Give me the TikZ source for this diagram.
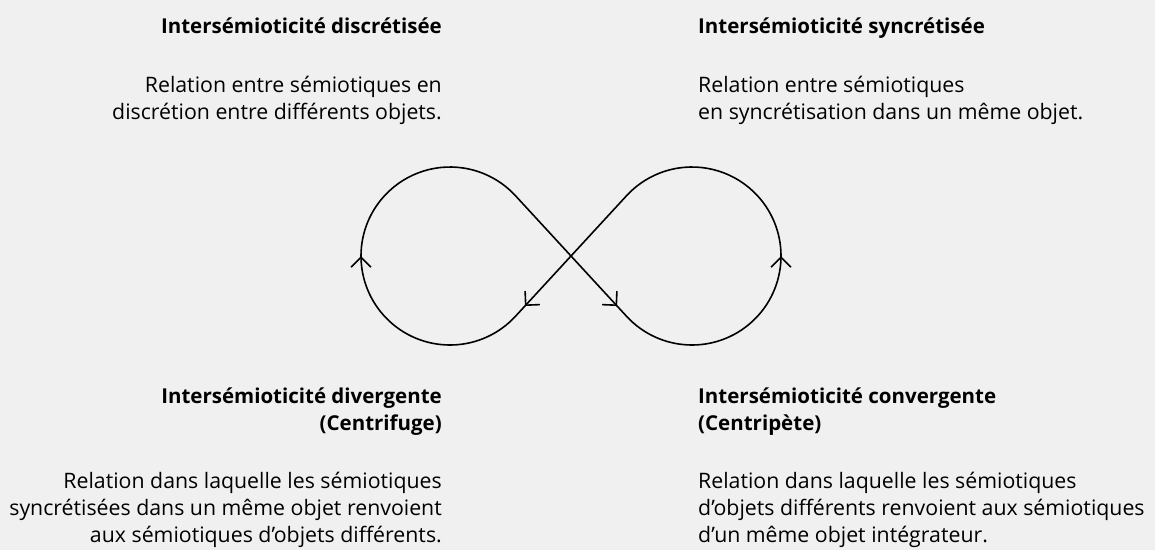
\documentclass[tikz,border=0pt]{standalone}
\usepackage{fontspec}
\setmainfont{Open Sans}
\usetikzlibrary{arrows.meta,decorations.markings}
\definecolor{bgfill}{RGB}{240,240,240}
\begin{document}
\begin{tikzpicture}[x=1pt,y=1pt,
  >={Straight Barb[length=10pt,width=20pt]},
  txt/.style={inner sep=0pt,font=\fontsize{21.3}{27}\selectfont},
  ttl/.style={inner sep=0pt,font=\fontsize{20.5}{27}\selectfont\bfseries},
  loopline/.style={line width=1.6pt,postaction={decorate},decoration={markings,
    mark=at position 150pt with {\arrow{>}},
    mark=at position 377.3pt with {\arrow{>}},
    mark=at position 740.7pt with {\arrow{>}},
    mark=at position 968pt with {\arrow{>}}}}]
 \fill[bgfill] (0,0) rectangle (1155,550);
 \useasboundingbox (0,0) rectangle (1155,550);
 \coordinate (cross) at (571,294);
 \coordinate (tl) at (515.45,354.3);
 \coordinate (bl) at (515.45,233.7);
 \coordinate (tr) at (626.55,354.3);
 \coordinate (br) at (626.55,233.7);
 \draw[loopline] (tr) -- (bl) arc[start angle=-42.65,end angle=-317.35,radius=89]
   -- (br) arc[start angle=222.65,end angle=497.35,radius=89] -- cycle;
 \node[ttl,anchor=north east,align=right] (discTitle) at (442,535.9) {\strut Intersémioticité discrétisée};
 \node[txt,anchor=north east,align=right] (discText) at (442,476.9)
   {\strut Relation entre sémiotiques en\\discrétion entre différents objets.};
 \node[ttl,anchor=north west,align=left] (syncTitle) at (698,535.9) {\strut Intersémioticité syncrétisée};
 \node[txt,anchor=north west,align=left] (syncText) at (698,476.9)
   {\strut Relation entre sémiotiques\\en syncrétisation dans un même objet.};
 \node[ttl,anchor=north east,align=right] (divTitle) at (442,165.9)
   {\strut Intersémioticité divergente\\(Centrifuge)};
 \node[txt,anchor=north east,align=right] (divText) at (442,80.9)
   {\strut Relation dans laquelle les sémiotiques\\syncrétisées dans un même objet renvoient\\aux sémiotiques d’objets différents.};
 \node[ttl,anchor=north west,align=left] (convTitle) at (698,165.9)
   {\strut Intersémioticité convergente\\(Centripète)};
 \node[txt,anchor=north west,align=left] (convText) at (698,80.9)
   {\strut Relation dans laquelle les sémiotiques\\d’objets différents renvoient aux sémiotiques\\d’un même objet intégrateur.};
\end{tikzpicture}
\end{document}
